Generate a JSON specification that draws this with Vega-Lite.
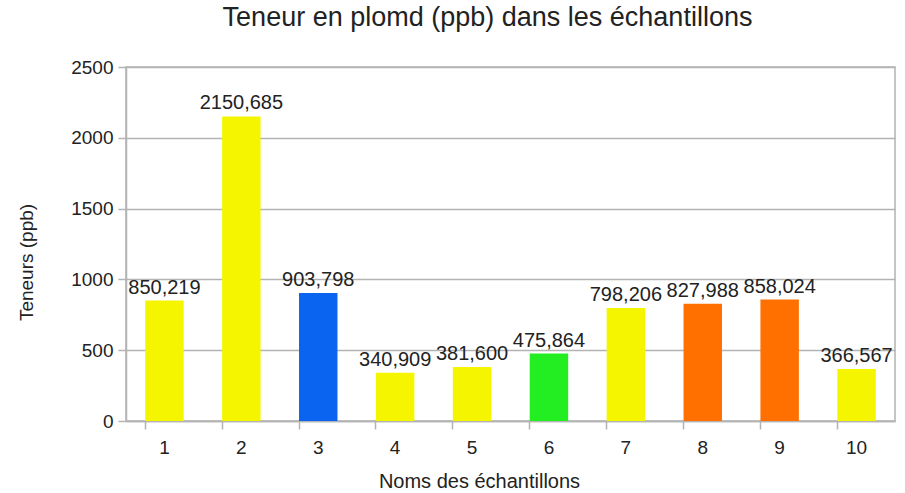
{
  "$schema": "https://vega.github.io/schema/vega-lite/v6.json",
  "autosize": "none",
  "width": 769,
  "height": 354,
  "padding": {"left": 126, "top": 67, "right": 10, "bottom": 72},
  "background": "white",
  "config": {
    "font": "Liberation Sans",
    "view": {"stroke": "#b3b3b3", "strokeWidth": 1.5}
  },
  "title": {
    "text": "Teneur en plomd (ppb) dans les échantillons",
    "fontSize": 27,
    "fontWeight": "normal",
    "color": "#222222",
    "anchor": "middle",
    "dx": -23,
    "offset": 26
  },
  "data": {
    "values": [
      {"echantillon": "1", "teneur": 850.219, "label": "850,219", "couleur": "#f5f500"},
      {"echantillon": "2", "teneur": 2150.685, "label": "2150,685", "couleur": "#f5f500"},
      {"echantillon": "3", "teneur": 903.798, "label": "903,798", "couleur": "#0a64f0"},
      {"echantillon": "4", "teneur": 340.909, "label": "340,909", "couleur": "#f5f500"},
      {"echantillon": "5", "teneur": 381.6, "label": "381,600", "couleur": "#f5f500"},
      {"echantillon": "6", "teneur": 475.864, "label": "475,864", "couleur": "#22ee22"},
      {"echantillon": "7", "teneur": 798.206, "label": "798,206", "couleur": "#f5f500"},
      {"echantillon": "8", "teneur": 827.988, "label": "827,988", "couleur": "#ff7000"},
      {"echantillon": "9", "teneur": 858.024, "label": "858,024", "couleur": "#ff7000"},
      {"echantillon": "10", "teneur": 366.567, "label": "366,567", "couleur": "#f5f500"}
    ]
  },
  "encoding": {
    "x": {
      "field": "echantillon",
      "type": "ordinal",
      "sort": null,
      "scale": {"paddingInner": 0.5, "paddingOuter": 0.25},
      "axis": {
        "title": "Noms des échantillons",
        "titleFontSize": 20,
        "titleFontWeight": "normal",
        "titleColor": "#222222",
        "titlePadding": 14,
        "titleX": 353,
        "labelAngle": 0,
        "labelFontSize": 19,
        "labelColor": "#222222",
        "labelPadding": 9,
        "bandPosition": 0,
        "tickSize": 8,
        "tickColor": "#b3b3b3",
        "tickWidth": 1.5,
        "domainColor": "#b3b3b3",
        "domainWidth": 1.5
      }
    },
    "y": {
      "field": "teneur",
      "type": "quantitative",
      "scale": {"domain": [0, 2500]},
      "axis": {
        "title": "Teneurs (ppb)",
        "titleFontSize": 19,
        "titleFontWeight": "normal",
        "titleColor": "#222222",
        "titlePadding": 34,
        "titleY": 195,
        "format": "d",
        "values": [0, 500, 1000, 1500, 2000, 2500],
        "labelFontSize": 19,
        "labelColor": "#222222",
        "labelPadding": 5,
        "tickSize": 8,
        "tickColor": "#b3b3b3",
        "tickWidth": 1.5,
        "gridColor": "#b3b3b3",
        "gridWidth": 1.5,
        "domainColor": "#b3b3b3",
        "domainWidth": 1.5
      }
    }
  },
  "layer": [
    {
      "mark": {"type": "bar"},
      "encoding": {
        "color": {"field": "couleur", "type": "nominal", "scale": null}
      }
    },
    {
      "mark": {"type": "text", "baseline": "bottom", "dy": -3, "fontSize": 20, "color": "#222222"},
      "encoding": {"text": {"field": "label", "type": "nominal"}}
    }
  ]
}
